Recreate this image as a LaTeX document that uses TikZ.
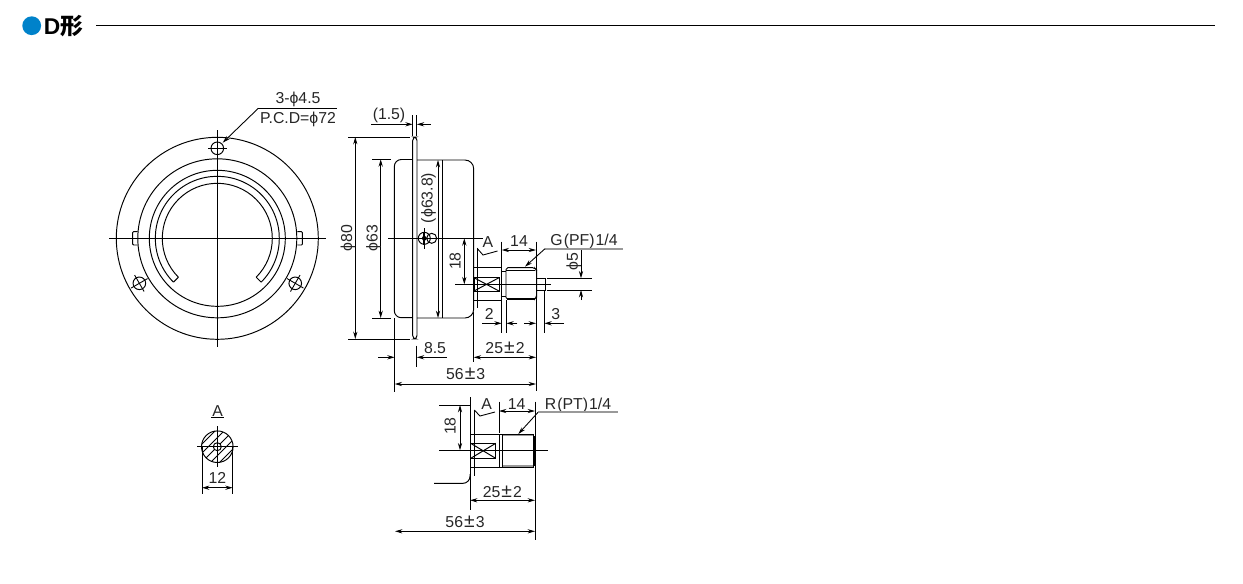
\documentclass[tikz,border=0pt]{standalone}
\usepackage{fontspec}
\setmainfont{Liberation Sans}
\newfontfamily\cjk{Noto Sans CJK JP}
\usetikzlibrary{arrows.meta,calc}
\definecolor{headblue}{HTML}{0082CA}
\definecolor{leadgray}{HTML}{999999}
\newcommand{\plmi}{\kern.6pt{\fontsize{11}{10}\selectfont ±}\kern.6pt}
\tikzset{
  part/.style={line width=0.55pt, black},
  thread/.style={line width=0.9pt, black},
  centre/.style={line width=0.55pt, black},
  extline/.style={line width=0.5pt, black},
  dimline/.style={line width=0.5pt, black, >={Stealth[length=4.2pt,width=2.4pt]}},
  lbl/.style={font=\fontsize{9}{10}\selectfont, inner sep=0pt, text height=6.4pt, text depth=0pt, text=black!85},
  graybar/.style={line width=1pt, leadgray},
}
\begin{document}
\begin{tikzpicture}[x=0.02cm, y=-0.02cm]
  \useasboundingbox (0,0) rectangle (1243,583);
  % Header
  \fill[headblue] (31.7,25.7) circle[radius=9.4];
  \node (title) [anchor=west, inner sep=0pt, font=\fontsize{13}{14}\selectfont\bfseries] at (43.5,26) {D\cjk 形};
  \draw[line width=0.55pt] (96,25) -- (1215,25);

  % Front view
  \coordinate (F) at (217.3,238.3);
  \foreach \rad in {101,79.5,68}
    \draw[part] (F) circle[radius=\rad];
  \draw[part] (F) ++(135:55) arc[start angle=135, end angle=405, radius=55];
  \draw[part] (F) ++(135:62) arc[start angle=135, end angle=405, radius=62];
  \draw[part] (F) ++(135:55) -- ++(135:7);
  \draw[part] (F) ++(45:55) -- ++(45:7);
  % Lugs
  \draw[part, rounded corners=0.5pt] (137.7,231.7) -- (132.7,231.7) -- (132.7,245) -- (137.7,245);
  \draw[part, rounded corners=0.5pt] (297.3,231.7) -- (302.3,231.7) -- (302.3,245) -- (297.3,245);
  % Holes
  \foreach \ang in {150,270,390} {
    \draw[part] (F) ++(\ang:90) circle[radius=6.3];
    \draw[extline] (F) ++(\ang:90) ++(\ang+90:9.5) -- ++(\ang-90:19);
    \draw[extline] (F) ++(\ang:80.5) -- ++(\ang:19);
  }
  \draw[centre] (109,238.3) -- (326,238.3);
  \draw[centre] (217.3,130) -- (217.3,346.7);
  % Hole label
  \node (holes) [lbl] at (298,98) {3-ϕ4.5};
  \node (pcd) [lbl] at (298,118.3) {P.C.D=ϕ72};
  \draw[extline] (258.3,108.3) -- (337.3,108.3);
  \draw[dimline, ->] (258.3,108.3) -- (222.7,142.7);

  % Side view
  \draw[part, rounded corners=2pt] (412.7,137) rectangle (417,339);
  \draw[part, rounded corners=4pt] (412.7,159.5) -- (394.3,159.5) -- (394.3,317.7) -- (412.7,317.7);
  \draw[part, rounded corners=5pt] (417,160) -- (473.7,160) -- (473.7,318) -- (417,318);
  \draw[part] (442.5,160) -- (442.5,318);
  \draw[part] (424.3,238.3) circle[radius=6];
  \draw[part] (431.7,238.3) circle[radius=5];
  \fill (424.3,238.3) circle[radius=2.4];
  \draw[line width=1pt] (424.3,232) -- (424.3,244.6);
  \draw[extline] (424.3,228) -- (424.3,248.5);
  \draw[centre] (388,238.3) -- (482.7,238.3);
  % Stem
  \draw[part] (473.5,267.5) rectangle (501.7,300.5);
  \draw[part] (474,277.7) rectangle (499,291);
  \draw[part] (474,277.7) -- (499,291) (474,291) -- (499,277.7);
  \draw[part] (501.7,271) -- (506,271) (501.7,296.7) -- (506,296.7);
  \draw[part, rounded corners=1pt] (506,299.3) -- (506,267.7) -- (534.5,267.7) -- (536.7,270) -- (536.7,297) -- (534.5,299.3) -- cycle;
  \draw[thread] (507,299.2) -- (535,299.2);
  \draw[extline] (506,270) -- (535,270);
  \draw[part] (536.7,278) -- (545,278) -- (545,290) -- (536.7,290);
  \draw[centre] (455,284.3) -- (550.7,284.3);
  % Section mark
  \draw[part] (477.3,247.7) -- (477.3,308);
  \draw[extline] (477.3,248.5) -- (483,255) -- (497.5,251);
  \node (markA) [lbl] at (488,241.7) {A};

  % Side view dimensions
  \draw[extline] (348,137) -- (410,137) (348,339) -- (410,339);
  \draw[dimline, <->] (355.3,137) -- (355.3,339);
  \node (phi80) [lbl, rotate=90] at (346.5,238.3) {ϕ80};
  \draw[extline] (372,159.3) -- (391,159.3) (372,318) -- (391,318);
  \draw[dimline, <->] (380.7,159.3) -- (380.7,318);
  \node (phi63) [lbl, rotate=90] at (372,238.3) {ϕ63};
  \draw[extline] (412.7,115) -- (412.7,136) (416.8,115) -- (416.8,136);
  \draw[dimline, ->] (371,124.3) -- (412.7,124.3);
  \draw[dimline, ->] (430.7,124.3) -- (416.8,124.3);
  \node (flange) [lbl] at (389,114) {(1.5)};
  \draw[dimline, <->] (438,160) -- (438,318);
  \node (phi638) [lbl, rotate=90] at (427,198) {(ϕ63.8)};
  \draw[dimline, <->] (464.3,238.3) -- (464.3,284.3);
  \node (stem18) [lbl, rotate=90] at (455,261) {18};
  \draw[extline] (501.7,241.7) -- (501.7,333.3);
  \draw[extline] (536,241.7) -- (536,391);
  \draw[extline] (506.3,300) -- (506.3,333.3);
  \draw[extline] (544.3,291) -- (544.3,333.3);
  \draw[dimline, <->] (501.7,250) -- (536,250);
  \node (stem14) [lbl] at (519,241) {14};
  \node (gthread) [lbl] at (584,240) {G\kern.6pt(PF)\kern.6pt1/4};
  \draw[graybar] (545,248.7) -- (623.3,248.7);
  \draw[dimline, ->] (545,248.7) -- (525,266.7);
  \draw[extline] (546.7,278.3) -- (591.7,278.3) (546.7,290) -- (591.7,290);
  \draw[dimline, ->] (581,250) -- (581,278.3);
  \draw[dimline, ->] (581,300) -- (581,290);
  \node (phi5) [lbl, rotate=90] at (572.3,261.7) {ϕ5};
  \draw[dimline, ->] (482.3,323.3) -- (501.7,323.3);
  \draw[dimline, ->] (517.3,323.3) -- (506.3,323.3);
  \node (neck2) [lbl] at (489.3,314.3) {2};
  \draw[dimline, ->] (524,323.3) -- (536,323.3);
  \draw[dimline, ->] (564,323.3) -- (544.3,323.3);
  \node (tip3) [lbl] at (555.7,314.3) {3};
  \draw[extline] (473.7,312) -- (473.7,361.7);
  \draw[dimline, <->] (473.7,357.3) -- (536,357.3);
  \node (len25) [lbl] at (505,348.3) {25\plmi 2};
  \draw[extline] (416.8,345.7) -- (416.8,366.7);
  \draw[dimline, ->] (378,357.3) -- (394.7,357.3);
  \draw[dimline, ->] (446.7,357.3) -- (416.8,357.3);
  \node (len85) [lbl] at (435,348.3) {8.5};
  \draw[extline] (394.7,318) -- (394.7,391.7);
  \draw[dimline, <->] (394.7,384) -- (536,384);
  \node (len56) [lbl] at (465.7,374) {56\plmi 3};

  % Lower view
  \draw[part] (470,397) -- (470,510);
  \draw[part] (474.3,410) -- (474.3,476);
  \draw[extline] (439.3,405) -- (470,405);
  \draw[part] (470,434.3) rectangle (499,467.3);
  \draw[part] (470.7,443.3) rectangle (495.7,458.3);
  \draw[part] (470.7,443.3) -- (495.7,458.3) (470.7,458.3) -- (495.7,443.3);
  \draw[part] (499,434.3) -- (533.3,434.3) -- (533.3,467.3) -- (499,467.3);
  \draw[graybar] (503,435.4) -- (532.5,435.4) (503,466.2) -- (532.5,466.2);
  \draw[part] (502.7,434.3) -- (502.7,467.3);
  \draw[part] (533.3,436.7) -- (534.9,436.7) -- (534.9,465) -- (533.3,465);
  \draw[centre] (439.3,450.3) -- (547.7,450.3);
  \draw[extline] (474.3,410) -- (480,416) -- (495,412);
  \node (markB) [lbl] at (486.7,404) {A};
  \draw[extline] (499,401.7) -- (499,433);
  \draw[extline] (535,401.7) -- (535,540);
  \draw[dimline, <->] (499,411) -- (535,411);
  \node (low14) [lbl] at (516.7,404) {14};
  \node (rthread) [lbl] at (578,404) {R\kern.6pt(PT)\kern.6pt1/4};
  \draw[graybar] (538,412.3) -- (617.7,412.3);
  \draw[dimline, ->] (538,412.3) -- (518.3,434);
  \draw[dimline, <->] (460,405) -- (460,450.3);
  \node (low18) [lbl, rotate=90] at (450,426) {18};
  \draw[part, rounded corners=4pt] (434,483.3) -- (470,483.3) -- (470,474);
  \draw[dimline, <->] (470,500.3) -- (535,500.3);
  \node (low25) [lbl] at (502.3,492.3) {25\plmi 2};
  \draw[dimline, <->] (395,531.3) -- (535,531.3);
  \node (low56) [lbl] at (465,521.7) {56\plmi 3};

  % Section A
  \coordinate (S) at (217.3,446.7);
  \begin{scope}
    \clip (S) circle[radius=15.8];
    \foreach \off in {-27,-18,...,27}
      \draw[extline] ($(S)+(\off-20,20)$) -- ($(S)+(\off+20,-20)$);
  \end{scope}
  \fill[white] (S) circle[radius=4];
  \draw[part] (S) circle[radius=4];
  \draw[part] (S) circle[radius=15.8];
  \draw[centre] (197.3,446.7) -- (237.7,446.7);
  \draw[centre] (217.3,426) -- (217.3,466.7);
  \node (secA) [lbl] at (217.7,410.7) {A};
  \draw[extline] (211,417.6) -- (224,417.6);
  \draw[extline] (202,447) -- (202,494.3) (232.7,447) -- (232.7,494.3);
  \draw[dimline, <->] (202,487.7) -- (232.7,487.7);
  \node (bore12) [lbl] at (217.3,477.7) {12};
\end{tikzpicture}
\end{document}
